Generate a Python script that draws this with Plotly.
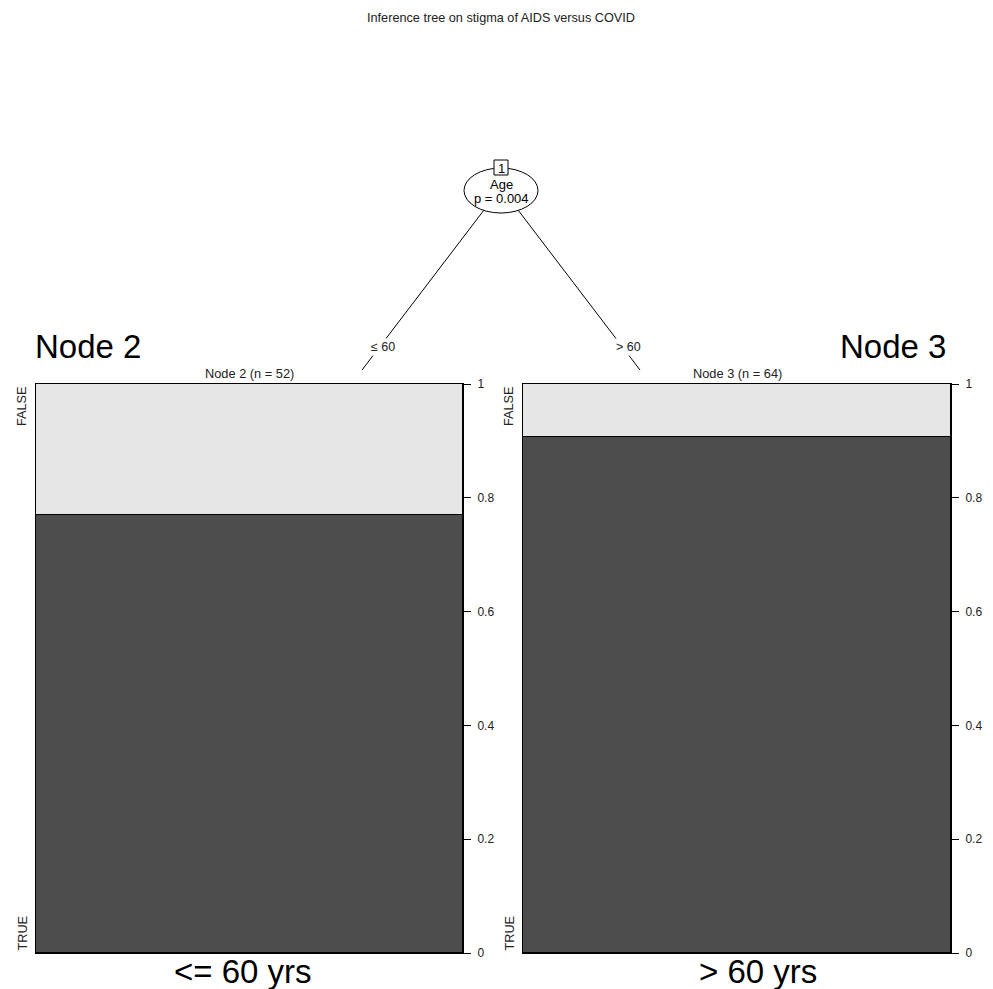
import plotly.graph_objects as go

# Conditional inference tree: one split on Age, two terminal nodes
title_text = "Inference tree on stigma of AIDS versus COVID"
split_var = "Age"
split_p = "p = 0.004"
edge_labels = ["\u2264 60", "> 60"]
node_names = ["Node 2", "Node 3"]
node_n = [52, 64]
true_counts = [40, 58]
group_labels = ["<= 60 yrs", "> 60 yrs"]
class_labels = ["FALSE", "TRUE"]
tick_vals = [0, 0.2, 0.4, 0.6, 0.8, 1]
tick_text = ["0", "0.2", "0.4", "0.6", "0.8", "1"]

W, H = 993, 989
DARK = "#4d4d4d"
LIGHT = "#e6e6e6"
FONT = "Liberation Sans, Arial, sans-serif"


def px(x):
    return x / W


def py(y):
    return 1 - y / H


def label(x, y, text, size=12.7, color="#222", xanchor="center", yanchor="middle", **kw):
    return dict(x=px(x), y=py(y), text=text, showarrow=False, xref="paper", yref="paper",
                xanchor=xanchor, yanchor=yanchor, font=dict(size=size, family=FONT, color=color), **kw)


# panel placement (pixels)
panels = [(36, 463), (523, 951)]
top, bottom = 384, 953

fig = go.Figure()

for i, (name, n, t) in enumerate(zip(node_names, node_n, true_counts)):
    xa = "x" if i == 0 else "x2"
    ya = "y" if i == 0 else "y2"
    p_true = t / n
    p_false = (n - t) / n
    fig.add_trace(go.Bar(x=[0], y=[p_true], width=[1], marker=dict(color=DARK, line=dict(color="black", width=1)),
                         xaxis=xa, yaxis=ya, showlegend=False, hoverinfo="skip", name=class_labels[1]))
    fig.add_trace(go.Bar(x=[0], y=[p_false], width=[1], marker=dict(color=LIGHT, line=dict(color="black", width=1)),
                         xaxis=xa, yaxis=ya, showlegend=False, hoverinfo="skip", name=class_labels[0]))

ax_common = dict(showgrid=False, zeroline=False, showline=True, linecolor="black", linewidth=1, mirror=True,
                 automargin=False)
for i, (x0, x1) in enumerate(panels):
    sfx = "" if i == 0 else str(i + 1)
    fig.update_layout(**{
        "xaxis" + sfx: dict(domain=[px(x0), px(x1)], range=[-0.5, 0.5], showticklabels=False, ticks="",
                            anchor="y" + sfx, **ax_common),
        "yaxis" + sfx: dict(domain=[py(bottom), py(top)], range=[0, 1], side="right", ticks="outside",
                            ticklen=7, tickcolor="black", tickvals=tick_vals, ticktext=tick_text,
                            ticklabelstandoff=4,
                            tickfont=dict(size=12, color="#222", family=FONT), anchor="x" + sfx, **ax_common),
    })

shapes = []
annotations = []

# edges to the terminal nodes
shapes.append(dict(type="line", xref="paper", yref="paper", x0=px(484), y0=py(210), x1=px(362), y1=py(370),
                   line=dict(color="black", width=1)))
shapes.append(dict(type="line", xref="paper", yref="paper", x0=px(518), y0=py(210), x1=px(640), y1=py(370),
                   line=dict(color="black", width=1)))
for lbl, (ex, ey) in zip(edge_labels, [(383, 347), (628, 347)]):
    annotations.append(label(ex, ey, lbl, size=12.5, bgcolor="white"))

# root node: ellipse, id box and split text
shapes.append(dict(type="circle", xref="paper", yref="paper", x0=px(464), x1=px(538), y0=py(213), y1=py(168),
                   line=dict(color="black", width=1), fillcolor="white", layer="above"))
shapes.append(dict(type="rect", xref="paper", yref="paper", x0=px(494), x1=px(508), y0=py(175), y1=py(160),
                   line=dict(color="black", width=1), fillcolor="white", layer="above"))
annotations.append(label(501, 168, "1", size=13, color="black"))
annotations.append(label(501, 184, split_var, size=13, color="black"))
annotations.append(label(501, 198, split_p, size=13, color="black"))

# title
annotations.append(label(501, 18, title_text))

for i, (x0, x1) in enumerate(panels):
    mid = (x0 + x1) / 2
    # node header
    annotations.append(label(mid, top - 1, f"{node_names[i]} (n = {node_n[i]})", size=12.8, yanchor="bottom"))
    # class labels on the left edge
    lx = x0 - 14
    annotations.append(label(lx, top, class_labels[0], yanchor="top", textangle=-90))
    annotations.append(label(lx, bottom, class_labels[1], yanchor="bottom", textangle=-90))
    # group caption under the panel
    annotations.append(label(243 if i == 0 else 758, 971, group_labels[i], size=33, color="black"))

# large node names
annotations.append(label(33, 346, node_names[0], size=33, color="black", xanchor="left"))
annotations.append(label(948, 346, node_names[1], size=33, color="black", xanchor="right"))

fig.update_layout(width=W, height=H, margin=dict(l=0, r=0, t=0, b=0, pad=0), barmode="stack", bargap=0,
                  plot_bgcolor="white", paper_bgcolor="white", shapes=shapes, annotations=annotations,
                  font=dict(family=FONT))

fig.write_html("out.html")
